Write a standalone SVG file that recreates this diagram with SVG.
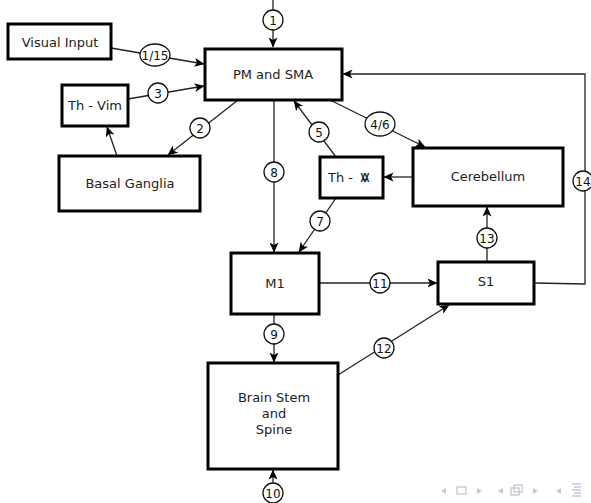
<svg xmlns="http://www.w3.org/2000/svg" width="591" height="503" viewBox="0 0 591 503">
<style>
.box{fill:#fff;stroke:#000;stroke-width:3}
.lbl{font-family:"DejaVu Sans",sans-serif;font-size:13px;fill:#222;text-anchor:middle}
.num{font-family:"DejaVu Sans",sans-serif;font-size:12px;fill:#111;text-anchor:middle}
.c{fill:#fff;stroke:#111;stroke-width:1.3}
.ln{fill:none;stroke:#222;stroke-width:1.3}
.nav{fill:#c5c5d8;stroke:none}
.navs{fill:none;stroke:#c5c5d8;stroke-width:1.3}
</style>
<defs>
<marker id="ah" viewBox="0 0 10 10" refX="9.5" refY="5" markerWidth="10" markerHeight="10" markerUnits="userSpaceOnUse" orient="auto">
<path d="M0,0.5 L10,5 L0,9.5 L2.5,5 Z" fill="#000"/>
</marker>
</defs>
<g id="connectors">
<line class="ln" x1="273" y1="0" x2="273" y2="47" marker-end="url(#ah)"/>
<line class="ln" x1="111" y1="48" x2="204" y2="64" marker-end="url(#ah)"/>
<line class="ln" x1="128" y1="99" x2="204" y2="86" marker-end="url(#ah)"/>
<line class="ln" x1="238" y1="100" x2="168" y2="155" marker-end="url(#ah)"/>
<line class="ln" x1="117" y1="156" x2="107" y2="127" marker-end="url(#ah)"/>
<line class="ln" x1="274" y1="100" x2="274" y2="252" marker-end="url(#ah)"/>
<line class="ln" x1="336" y1="157" x2="294" y2="101" marker-end="url(#ah)"/>
<line class="ln" x1="330" y1="100" x2="425" y2="147" marker-end="url(#ah)"/>
<line class="ln" x1="413" y1="177" x2="384" y2="177" marker-end="url(#ah)"/>
<line class="ln" x1="336" y1="198" x2="299" y2="252" marker-end="url(#ah)"/>
<line class="ln" x1="319" y1="283" x2="437" y2="283" marker-end="url(#ah)"/>
<line class="ln" x1="487" y1="262" x2="487" y2="207" marker-end="url(#ah)"/>
<polyline class="ln" points="534,283 585,284 585,74 343,74" marker-end="url(#ah)"/>
<line class="ln" x1="274" y1="314" x2="274" y2="362" marker-end="url(#ah)"/>
<line class="ln" x1="338" y1="375" x2="449" y2="305" marker-end="url(#ah)"/>
<line class="ln" x1="273" y1="503" x2="273" y2="470" marker-end="url(#ah)"/>
</g>
<g id="labels">
<circle class="c" cx="273" cy="20" r="10"/><text class="num" x="273" y="24.5">1</text>
<ellipse class="c" cx="155" cy="55" rx="15" ry="11"/><text class="num" x="155" y="59.5">1/15</text>
<circle class="c" cx="158" cy="93" r="10"/><text class="num" x="158" y="97.5">3</text>
<circle class="c" cx="200" cy="128" r="10"/><text class="num" x="200" y="132.5">2</text>
<circle class="c" cx="274" cy="172" r="10"/><text class="num" x="274" y="176.5">8</text>
<circle class="c" cx="319" cy="132" r="10"/><text class="num" x="319" y="136.5">5</text>
<ellipse class="c" cx="380" cy="124" rx="15" ry="12"/><text class="num" x="380" y="128.5">4/6</text>
<circle class="c" cx="320" cy="221" r="10"/><text class="num" x="320" y="225.5">7</text>
<circle class="c" cx="380" cy="283" r="10"/><text class="num" x="380" y="287.5">11</text>
<circle class="c" cx="487" cy="238" r="10"/><text class="num" x="487" y="242.5">13</text>
<circle class="c" cx="583" cy="181" r="10"/><text class="num" x="583" y="185.5">14</text>
<circle class="c" cx="274" cy="334" r="10"/><text class="num" x="274" y="338.5">9</text>
<circle class="c" cx="384" cy="348" r="10"/><text class="num" x="384" y="352.5">12</text>
<circle class="c" cx="273" cy="493" r="10"/><text class="num" x="273" y="497.5">10</text>
</g>
<g id="visual-input"><rect class="box" x="8" y="24" width="103" height="35"/><text class="lbl" x="60" y="46.5">Visual Input</text></g>
<g id="pm-sma"><rect class="box" x="205" y="49" width="137" height="51"/><text class="lbl" x="273" y="79">PM and SMA</text></g>
<g id="th-vim"><rect class="box" x="62" y="85" width="66" height="41"/><text class="lbl" x="95" y="110">Th - Vim</text></g>
<g id="basal-ganglia"><rect class="box" x="59" y="156" width="141" height="55"/><text class="lbl" x="130" y="188">Basal Ganglia</text></g>
<g id="th-va"><rect class="box" x="320" y="157" width="63" height="41"/><text class="lbl" x="328" y="182" style="text-anchor:start">Th -</text><text class="lbl" x="365" y="182">V</text><text class="lbl" x="365" y="182">A</text></g>
<g id="cerebellum"><rect class="box" x="413" y="148" width="150" height="58"/><text class="lbl" x="488" y="181">Cerebellum</text></g>
<g id="m1"><rect class="box" x="231" y="253" width="88" height="61"/><text class="lbl" x="275" y="288">M1</text></g>
<g id="s1"><rect class="box" x="438" y="262" width="96" height="42"/><text class="lbl" x="486" y="286">S1</text></g>
<g id="brain-stem"><rect class="box" x="208" y="363" width="130" height="106"/><text class="lbl" x="274" y="402">Brain Stem</text><text class="lbl" x="274" y="418">and</text><text class="lbl" x="274" y="434">Spine</text></g>
<g id="nav">
<path class="nav" d="M446,488 L441,491 L446,494 Z"/>
<rect class="navs" x="457" y="487" width="9" height="7"/>
<path class="nav" d="M477,488 L482,491 L477,494 Z"/>
<path class="nav" d="M503,488 L498,491 L503,494 Z"/>
<rect class="navs" x="511" y="488" width="8" height="7"/><rect class="navs" x="514" y="485" width="8" height="7"/>
<path class="nav" d="M533,488 L538,491 L533,494 Z"/>
<path class="nav" d="M561,488 L556,491 L561,494 Z"/>
<path class="navs" d="M572,484 H581 M574,487 H581 M572,490 H581 M574,493 H581 M572,496 H581"/>
</g>
</svg>
